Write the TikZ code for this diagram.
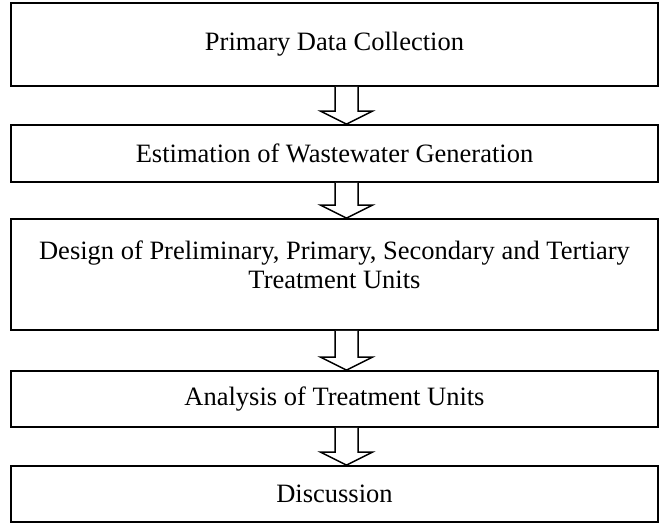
\documentclass[tikz,border=0pt]{standalone}
\usepackage{fontspec}
\setmainfont{Liberation Serif}
\usetikzlibrary{calc}
\tikzset{
  box/.style={draw, line width=1.8pt, minimum width=647pt, inner sep=0pt, align=center,
    font=\fontsize{26.5}{29}\selectfont},
  blockarr/.style={draw, line width=1.5pt, fill=white, line join=miter}
}
\newcommand{\blockarrow}[2]{%
  \draw[blockarr] let \p1=(#1.south), \p2=(#2.north) in
    (\x1+0.5pt,\y1) -- (\x1+0.5pt,\y2+13pt) -- (\x1-14pt,\y2+13pt) -- (\x1+12pt,\y2)
    -- (\x1+38pt,\y2+13pt) -- (\x1+23.5pt,\y2+13pt) -- (\x1+23.5pt,\y1);
}
\begin{document}
\begin{tikzpicture}[x=1pt,y=1pt]
\useasboundingbox (0,0) rectangle (661,-523);
\node[box, minimum height=83pt] (b1) at (334.5,-44.5) {Primary Data Collection};
\node[box, minimum height=57pt] (b2) at (334.5,-153.5) {Estimation of Wastewater Generation};
\node[box, minimum height=111pt] (b3) at (334.5,-274.5) {Design of Preliminary, Primary, Secondary and Tertiary\\ Treatment Units\\[-10pt] \mbox{}};
\node[box, minimum height=56pt] (b4) at (334.5,-399) {Analysis of Treatment Units};
\node[box, minimum height=56pt] (b5) at (334.5,-494) {Discussion};
\blockarrow{b1}{b2}
\blockarrow{b2}{b3}
\blockarrow{b3}{b4}
\blockarrow{b4}{b5}
\end{tikzpicture}
\end{document}
